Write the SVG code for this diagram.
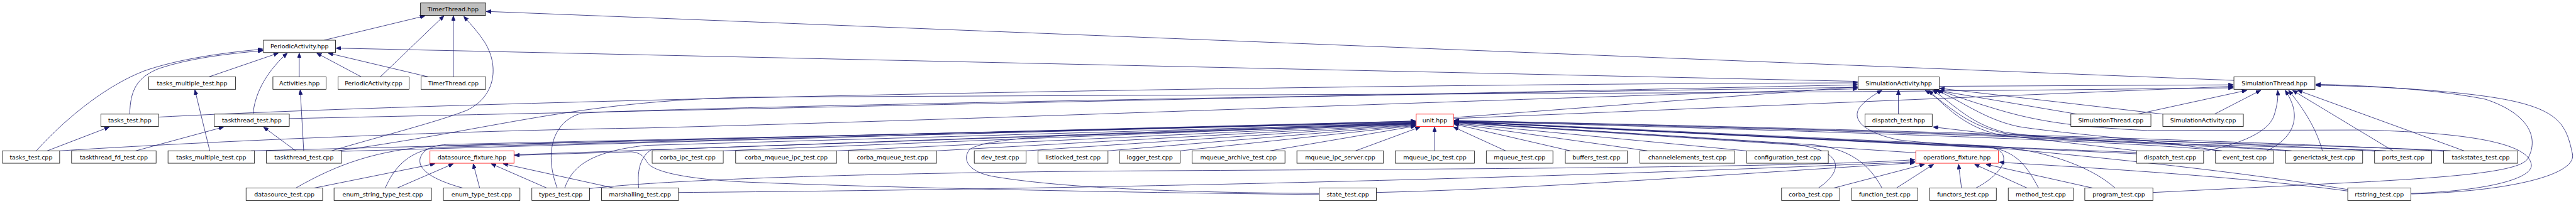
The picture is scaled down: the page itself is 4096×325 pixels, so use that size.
<svg xmlns="http://www.w3.org/2000/svg" width="4096" height="325" viewBox="0 0 4096 325">
<defs>
<marker id="ah" markerUnits="userSpaceOnUse" markerWidth="10" markerHeight="8" refX="10" refY="4" orient="auto" viewBox="0 0 10 8"><path d="M0,0 L10,4 L0,8 z" fill="#191970" stroke="#191970" stroke-width="1"/></marker>
</defs>
<style>
.n rect{fill:#fff;stroke:#000;stroke-width:1}
.n.r rect{stroke:#ff0000}
.n.g rect{fill:#bfbfbf}
.n text{font-family:"DejaVu Sans",sans-serif;font-size:12px;text-anchor:middle;fill:#000}
.e path{fill:none;stroke:#191970;stroke-width:1;marker-end:url(#ah)}
</style>
<rect width="4096" height="325" fill="#fff"/>
<g transform="scale(0.7904)">
<g id="edges" class="e">
<path d="M652,81 L855,32"/>
<path d="M765,155 L893,32"/>
<path d="M912,155 L912,32"/>
<path d="M667,304 C760,276 880,246 940,222 C1000,192 1003,130 975,85 C963,66 948,50 933,33"/>
<path d="M4494,162 L978,23"/>
<path d="M73,304 C140,230 220,170 290,143 C350,122 430,108 529,99"/>
<path d="M261,230 C262,182 275,156 320,138 C380,118 450,109 529,102"/>
<path d="M420,155 L560,107"/>
<path d="M509,230 C512,195 530,150 578,107"/>
<path d="M602,155 L602,107"/>
<path d="M727,155 L637,107"/>
<path d="M862,155 L660,107"/>
<path d="M3737,164 L676,97"/>
<path d="M611,304 L604,181"/>
<path d="M422,304 L392,181"/>
<path d="M95,304 L220,256"/>
<path d="M273,304 L450,256"/>
<path d="M595,304 L530,256"/>
<path d="M632,379 L875,330"/>
<path d="M799,379 L912,330"/>
<path d="M965,379 L952,330"/>
<path d="M1100,379 L988,330"/>
<path d="M1235,379 L1012,330"/>
<path d="M2654,392 C2300,389 1800,379 1500,367 C1400,362 1322,350 1304,330 C1296,318 1292,308 1270,306 L1035,313"/>
<path d="M505,304 L2848,244"/>
<path d="M687,305 L2848,244"/>
<path d="M595,379 C680,330 760,302 880,294 L2848,245"/>
<path d="M775,379 C790,345 815,306 880,297 L2848,246"/>
<path d="M931,379 C880,365 840,345 845,320 C850,301 870,292 905,291 L2848,247"/>
<path d="M1136,379 C1150,340 1180,306 1300,293 L2848,248"/>
<path d="M1285,379 C1282,350 1285,318 1310,302 L2848,249"/>
<path d="M1034,312 L2848,247"/>
<path d="M1455,304 L2848,248"/>
<path d="M1683,304 L2848,249"/>
<path d="M1884,304 L2848,250"/>
<path d="M2064,304 L2848,251"/>
<path d="M2229,304 L2848,252"/>
<path d="M2374,304 L2848,253"/>
<path d="M2555,304 L2848,254"/>
<path d="M2727,304 L2857,256"/>
<path d="M2654,390 C2400,388 2150,381 2000,356 C1948,347 1935,322 1950,302 C1968,286 2060,276 2160,273 L2848,250"/>
<path d="M3029,304 L2924,256"/>
<path d="M2886,304 L2886,256"/>
<path d="M3159,304 L2925,250"/>
<path d="M3314,304 L2925,249"/>
<path d="M3513,304 L2925,248"/>
<path d="M3854,308 L2925,247"/>
<path d="M3658,379 C3715,340 3705,300 3600,290 L2925,246"/>
<path d="M3786,379 C3760,330 3720,300 3650,292 L2925,246"/>
<path d="M3975,379 C4030,350 4050,310 4010,298 L2925,245"/>
<path d="M4101,379 C4080,340 4060,305 4000,296 L2925,245"/>
<path d="M4255,379 C4200,330 4100,300 4000,294 L2925,244"/>
<path d="M4298,310 C4000,296 3500,272 2925,245"/>
<path d="M4470,304 C4300,286 3800,268 2925,244"/>
<path d="M4610,304 C4400,286 3800,264 2925,244"/>
<path d="M4780,305 C4600,291 3800,262 2925,243"/>
<path d="M4918,305 C4700,291 3800,260 2925,243"/>
<path d="M4723,382 C4500,345 4250,320 4040,300 L2925,245"/>
<path d="M3689,379 L3872,331"/>
<path d="M3815,379 L3890,331"/>
<path d="M3946,379 L3940,331"/>
<path d="M4078,379 L3972,331"/>
<path d="M4210,379 L3995,331"/>
<path d="M4723,385 C4500,355 4200,338 4022,327"/>
<path d="M1365,388 C2000,383 3000,365 3852,326"/>
<path d="M1186,380 C1350,362 1700,350 2200,345 C3000,340 3600,338 3852,322"/>
<path d="M2769,388 C3100,380 3500,350 3852,328"/>
<path d="M3819,230 L3819,181"/>
<path d="M4178,230 L3890,181"/>
<path d="M4351,230 L3902,178"/>
<path d="M2924,237 L3737,175"/>
<path d="M319,236 C900,205 2500,170 3737,167"/>
<path d="M582,239 C1300,224 2600,195 3737,171"/>
<path d="M120,304 C500,280 1000,262 1296,258 C2000,240 3000,200 3737,179"/>
<path d="M1121,379 C1095,310 1110,245 1170,228 C1400,215 2800,190 3737,176"/>
<path d="M4298,307 C4100,300 3900,292 3820,282 C3742,266 3722,236 3745,212 C3758,198 3772,190 3786,182"/>
<path d="M4850,390 C5000,385 5100,360 5092,330 C5085,295 5000,268 4752,262 L4320,263 C4150,255 4080,240 4000,215 C3950,200 3925,190 3900,182"/>
<path d="M4460,304 C4380,286 4150,270 4060,255 C3990,240 3945,202 3895,182"/>
<path d="M4600,304 C4450,293 4150,286 4030,266 C3960,248 3925,205 3888,182"/>
<path d="M4800,304 C4600,294 4200,288 4040,275 C3955,262 3915,215 3880,182"/>
<path d="M4930,304 C4700,292 4200,284 4045,271 C3955,256 3920,210 3873,182"/>
<path d="M3902,174 L4493,171"/>
<path d="M2924,239 L4493,174"/>
<path d="M680,304 C1000,260 1150,205 1500,196 C2500,190 3500,190 4493,177"/>
<path d="M4300,230 L4520,182"/>
<path d="M4455,230 L4548,182"/>
<path d="M4433,305 C4510,290 4565,265 4575,232 C4582,210 4583,195 4582,182"/>
<path d="M4560,304 C4620,275 4630,230 4597,182"/>
<path d="M4672,304 C4660,260 4635,220 4604,182"/>
<path d="M4814,304 L4612,182"/>
<path d="M4957,304 L4622,182"/>
<path d="M4331,388 L4752,367 C4950,356 5070,345 5085,320 C5108,280 5090,230 5000,200 C4900,180 4760,172 4659,170"/>
<path d="M4851,391 C5050,386 5185,352 5175,310 C5162,250 5150,215 5000,194 C4900,180 4760,173 4659,172"/>
<path d="M4300,304 L3889,256"/>
</g>
<g id="n_TimerThread_hpp" class="n g"><rect x="846" y="6" width="131" height="25"/><text x="911.5" y="23">TimerThread.hpp</text></g>
<g id="n_PeriodicActivity_hpp" class="n"><rect x="530" y="81" width="145" height="25"/><text x="602.5" y="98">PeriodicActivity.hpp</text></g>
<g id="n_tasks_multiple_test_hpp" class="n"><rect x="299" y="155" width="175" height="25"/><text x="386.5" y="172">tasks_multiple_test.hpp</text></g>
<g id="n_Activities_hpp" class="n"><rect x="549" y="155" width="107" height="25"/><text x="602.5" y="172">Activities.hpp</text></g>
<g id="n_PeriodicActivity_cpp" class="n"><rect x="680" y="155" width="143" height="25"/><text x="751.5" y="172">PeriodicActivity.cpp</text></g>
<g id="n_TimerThread_cpp" class="n"><rect x="847" y="155" width="130" height="25"/><text x="912" y="172">TimerThread.cpp</text></g>
<g id="n_SimulationActivity_hpp" class="n"><rect x="3738" y="155" width="163" height="25"/><text x="3819.5" y="172">SimulationActivity.hpp</text></g>
<g id="n_SimulationThread_hpp" class="n"><rect x="4494" y="155" width="163" height="25"/><text x="4575.5" y="172">SimulationThread.hpp</text></g>
<g id="n_tasks_test_hpp" class="n"><rect x="203" y="230" width="116" height="25"/><text x="261" y="247">tasks_test.hpp</text></g>
<g id="n_taskthread_test_hpp" class="n"><rect x="431" y="230" width="151" height="25"/><text x="506.5" y="247">taskthread_test.hpp</text></g>
<g id="n_unit_hpp" class="n r"><rect x="2849" y="230" width="75" height="25"/><text x="2886.5" y="247">unit.hpp</text></g>
<g id="n_dispatch_test_hpp" class="n"><rect x="3752" y="230" width="135" height="25"/><text x="3819.5" y="247">dispatch_test.hpp</text></g>
<g id="n_SimulationThread_cpp" class="n"><rect x="4166" y="230" width="161" height="25"/><text x="4246.5" y="247">SimulationThread.cpp</text></g>
<g id="n_SimulationActivity_cpp" class="n"><rect x="4351" y="230" width="162" height="25"/><text x="4432" y="247">SimulationActivity.cpp</text></g>
<g id="n_tasks_test_cpp" class="n"><rect x="5" y="304" width="115" height="25"/><text x="62.5" y="321">tasks_test.cpp</text></g>
<g id="n_taskthread_fd_test_cpp" class="n"><rect x="144" y="304" width="170" height="25"/><text x="229" y="321">taskthread_fd_test.cpp</text></g>
<g id="n_tasks_multiple_test_cpp" class="n"><rect x="338" y="304" width="174" height="25"/><text x="425" y="321">tasks_multiple_test.cpp</text></g>
<g id="n_taskthread_test_cpp" class="n"><rect x="536" y="304" width="151" height="25"/><text x="611.5" y="321">taskthread_test.cpp</text></g>
<g id="n_datasource_fixture_hpp" class="n r"><rect x="865" y="304" width="169" height="25"/><text x="949.5" y="321">datasource_fixture.hpp</text></g>
<g id="n_corba_ipc_test_cpp" class="n"><rect x="1312" y="304" width="143" height="25"/><text x="1383.5" y="321">corba_ipc_test.cpp</text></g>
<g id="n_corba_mqueue_ipc_test_cpp" class="n"><rect x="1480" y="304" width="203" height="25"/><text x="1581.5" y="321">corba_mqueue_ipc_test.cpp</text></g>
<g id="n_corba_mqueue_test_cpp" class="n"><rect x="1707" y="304" width="177" height="25"/><text x="1795.5" y="321">corba_mqueue_test.cpp</text></g>
<g id="n_dev_test_cpp" class="n"><rect x="1960" y="304" width="104" height="25"/><text x="2012" y="321">dev_test.cpp</text></g>
<g id="n_listlocked_test_cpp" class="n"><rect x="2088" y="304" width="141" height="25"/><text x="2158.5" y="321">listlocked_test.cpp</text></g>
<g id="n_logger_test_cpp" class="n"><rect x="2252" y="304" width="122" height="25"/><text x="2313" y="321">logger_test.cpp</text></g>
<g id="n_mqueue_archive_test_cpp" class="n"><rect x="2398" y="304" width="187" height="25"/><text x="2491.5" y="321">mqueue_archive_test.cpp</text></g>
<g id="n_mqueue_ipc_server_cpp" class="n"><rect x="2609" y="304" width="174" height="25"/><text x="2696" y="321">mqueue_ipc_server.cpp</text></g>
<g id="n_mqueue_ipc_test_cpp" class="n"><rect x="2807" y="304" width="159" height="25"/><text x="2886.5" y="321">mqueue_ipc_test.cpp</text></g>
<g id="n_mqueue_test_cpp" class="n"><rect x="2990" y="304" width="134" height="25"/><text x="3057" y="321">mqueue_test.cpp</text></g>
<g id="n_buffers_test_cpp" class="n"><rect x="3149" y="304" width="125" height="25"/><text x="3211.5" y="321">buffers_test.cpp</text></g>
<g id="n_channelelements_test_cpp" class="n"><rect x="3299" y="304" width="191" height="25"/><text x="3394.5" y="321">channelelements_test.cpp</text></g>
<g id="n_configuration_test_cpp" class="n"><rect x="3514" y="304" width="164" height="25"/><text x="3596" y="321">configuration_test.cpp</text></g>
<g id="n_operations_fixture_hpp" class="n r"><rect x="3854" y="304" width="166" height="25"/><text x="3937" y="321">operations_fixture.hpp</text></g>
<g id="n_dispatch_test_cpp" class="n"><rect x="4298" y="304" width="135" height="25"/><text x="4365.5" y="321">dispatch_test.cpp</text></g>
<g id="n_event_test_cpp" class="n"><rect x="4457" y="304" width="117" height="25"/><text x="4515.5" y="321">event_test.cpp</text></g>
<g id="n_generictask_test_cpp" class="n"><rect x="4598" y="304" width="155" height="25"/><text x="4675.5" y="321">generictask_test.cpp</text></g>
<g id="n_ports_test_cpp" class="n"><rect x="4777" y="304" width="115" height="25"/><text x="4834.5" y="321">ports_test.cpp</text></g>
<g id="n_taskstates_test_cpp" class="n"><rect x="4916" y="304" width="149" height="25"/><text x="4990.5" y="321">taskstates_test.cpp</text></g>
<g id="n_datasource_test_cpp" class="n"><rect x="495" y="379" width="154" height="25"/><text x="572" y="396">datasource_test.cpp</text></g>
<g id="n_enum_string_type_test_cpp" class="n"><rect x="672" y="379" width="196" height="25"/><text x="770" y="396">enum_string_type_test.cpp</text></g>
<g id="n_enum_type_test_cpp" class="n"><rect x="892" y="379" width="154" height="25"/><text x="969" y="396">enum_type_test.cpp</text></g>
<g id="n_types_test_cpp" class="n"><rect x="1070" y="379" width="116" height="25"/><text x="1128" y="396">types_test.cpp</text></g>
<g id="n_marshalling_test_cpp" class="n"><rect x="1210" y="379" width="155" height="25"/><text x="1287.5" y="396">marshalling_test.cpp</text></g>
<g id="n_state_test_cpp" class="n"><rect x="2654" y="379" width="115" height="25"/><text x="2711.5" y="396">state_test.cpp</text></g>
<g id="n_corba_test_cpp" class="n"><rect x="3584" y="379" width="117" height="25"/><text x="3642.5" y="396">corba_test.cpp</text></g>
<g id="n_function_test_cpp" class="n"><rect x="3725" y="379" width="133" height="25"/><text x="3791.5" y="396">function_test.cpp</text></g>
<g id="n_functors_test_cpp" class="n"><rect x="3882" y="379" width="134" height="25"/><text x="3949" y="396">functors_test.cpp</text></g>
<g id="n_method_test_cpp" class="n"><rect x="4040" y="379" width="131" height="25"/><text x="4105.5" y="396">method_test.cpp</text></g>
<g id="n_program_test_cpp" class="n"><rect x="4194" y="379" width="137" height="25"/><text x="4262.5" y="396">program_test.cpp</text></g>
<g id="n_rtstring_test_cpp" class="n"><rect x="4723" y="379" width="127" height="25"/><text x="4786.5" y="396">rtstring_test.cpp</text></g>
</g>
</svg>
